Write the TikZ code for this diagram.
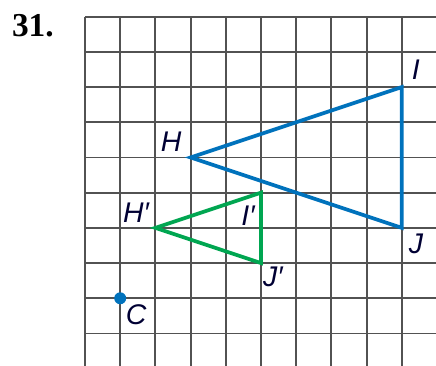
\documentclass[tikz,border=0pt]{standalone}
\usepackage{fontspec}
\setmainfont{Liberation Serif}
\setsansfont{Liberation Sans}
\definecolor{dilblue}{RGB}{0,114,188}
\definecolor{dilgreen}{RGB}{0,166,81}
\tikzset{
  ptlabel/.style={font=\sffamily\itshape\fontsize{23}{23}\selectfont, text=black!80!blue, inner sep=0pt},
  tri/.style={line width=3pt, line join=miter},
}
\begin{document}
\begin{tikzpicture}
\useasboundingbox (-2.415,-9.923) rectangle (9.972,0.474);
\clip (-2.415,-9.923) rectangle (9.972,0.474);

\draw[black!68, line width=1.5pt] (0,-10) grid (10,0);

\coordinate (H) at (3,-4);
\coordinate (I) at (9,-2);
\coordinate (J) at (9,-6);
\coordinate (Hp) at (2,-6);
\coordinate (Ip) at (5,-5);
\coordinate (Jp) at (5,-7);
\coordinate (C) at (1,-8);

\draw[tri, dilblue] (H) -- (I) -- (J) -- cycle;
\draw[tri, dilgreen] (Hp) -- (Ip) -- (Jp) -- cycle;
\fill[dilblue] (C) circle (0.17);

\node[font=\bfseries\fontsize{27}{27}\selectfont, inner sep=0pt] (num) at (-1.48,-0.26) {31.};

\node[ptlabel] (Hlab) at (2.45,-3.55) {H};
\node[ptlabel] (Ilab) at (9.40,-1.51) {I};
\node[ptlabel] (Jlab) at (9.40,-6.46) {J};
\node[ptlabel] (Hplab) at (1.45,-5.58) {H′};
\node[ptlabel] (Iplab) at (4.63,-5.66) {I′};
\node[ptlabel] (Jplab) at (5.34,-7.40) {J′};
\node[ptlabel] (Clab) at (1.45,-8.47) {C};
\end{tikzpicture}
\end{document}
